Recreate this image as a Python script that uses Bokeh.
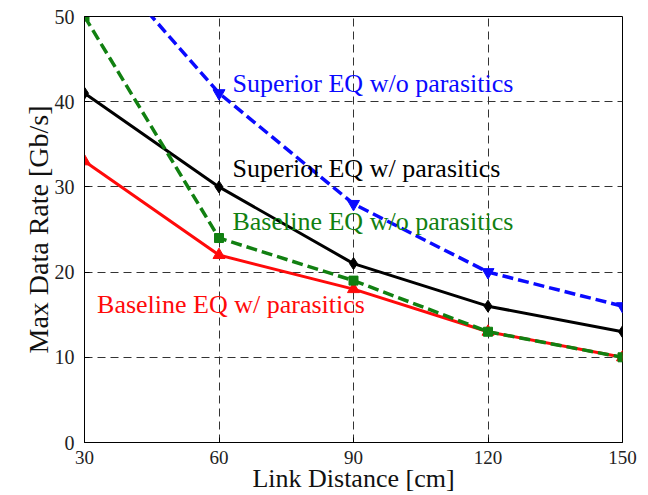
from bokeh.plotting import figure
from bokeh.models import Label, Range1d, FixedTicker
from bokeh.embed import file_html
from bokeh.resources import INLINE

distance = [30, 60, 90, 120, 150]
superior_wo = [59, 41, 28, 20, 16]
superior_w = [41, 30, 21, 16, 13]
baseline_wo = [50, 24, 19, 13, 10]
baseline_w = [33, 22, 18, 13, 10]
x_ticks = [30, 60, 90, 120, 150]
y_ticks = [0, 10, 20, 30, 40, 50]

FONT = "Liberation Serif"

p = figure(width=648, height=495, output_backend="svg", toolbar_location=None,
           x_range=Range1d(30, 150), y_range=Range1d(0, 50),
           min_border_left=84, min_border_right=26, min_border_top=16, min_border_bottom=52)
p.outline_line_color = "black"
p.outline_line_width = 1
p.background_fill_color = "white"
p.border_fill_color = "white"

for ax in (p.xaxis, p.yaxis):
    ax.major_tick_in = 5
    ax.major_tick_out = 0
    ax.minor_tick_in = 0
    ax.minor_tick_out = 0
    ax.axis_line_color = "black"
    ax.major_tick_line_color = "black"
    ax.major_label_text_font = FONT
    ax.major_label_text_color = "#222222"
    ax.axis_label_text_font = FONT
    ax.axis_label_text_font_style = "normal"
    ax.axis_label_text_color = "#111111"

p.xaxis.major_label_text_font_size = "19px"
p.yaxis.major_label_text_font_size = "20px"
p.xaxis.axis_label_text_font_size = "26px"
p.yaxis.axis_label_text_font_size = "28px"

p.xaxis.ticker = FixedTicker(ticks=x_ticks)
p.yaxis.ticker = FixedTicker(ticks=y_ticks)
p.xaxis.axis_label = "Link Distance [cm]"
p.yaxis.axis_label = "Max Data Rate [Gb/s]"
p.xaxis.major_label_standoff = 8
p.yaxis.major_label_standoff = 10
p.xaxis.axis_label_standoff = -3
p.yaxis.axis_label_standoff = -2

for g in (p.xgrid, p.ygrid):
    g.grid_line_color = "#333333"
    g.grid_line_dash = "8 5"
    g.grid_line_width = 1

BLUE = "#0a0aff"
RED = "#ff0a0a"
GREEN = "#118011"

p.line(distance, superior_wo, line_color=BLUE, line_width=3.5, line_dash="11 5")
p.scatter(distance, superior_wo, marker="inverted_triangle", size=12, fill_color=BLUE, line_color=BLUE)

p.line(distance, superior_w, line_color="black", line_width=3)
p.scatter(distance, superior_w, marker="diamond", size=12, fill_color="black", line_color="black")

p.line(distance, baseline_w, line_color=RED, line_width=3)
p.scatter(distance, baseline_w, marker="triangle", size=12, fill_color=RED, line_color=RED)

p.line(distance, baseline_wo, line_color=GREEN, line_width=3.5, line_dash="11 5")
p.scatter(distance, baseline_wo, marker="square", size=9, fill_color=GREEN, line_color=GREEN)

labels = [
    ("Superior EQ w/o parasitics", 63.0, 42.1, BLUE),
    ("Superior EQ w/ parasitics", 63.0, 32.2, "black"),
    ("Baseline EQ w/o parasitics", 63.0, 25.9, GREEN),
    ("Baseline EQ w/ parasitics", 32.8, 16.2, RED),
]
for txt, lx, ly, col in labels:
    p.add_layout(Label(x=lx, y=ly, text=txt, text_color=col, text_font=FONT,
                       text_font_size="26px", text_baseline="middle", text_align="left"))

open("out.html", "w").write(file_html(p, INLINE))
